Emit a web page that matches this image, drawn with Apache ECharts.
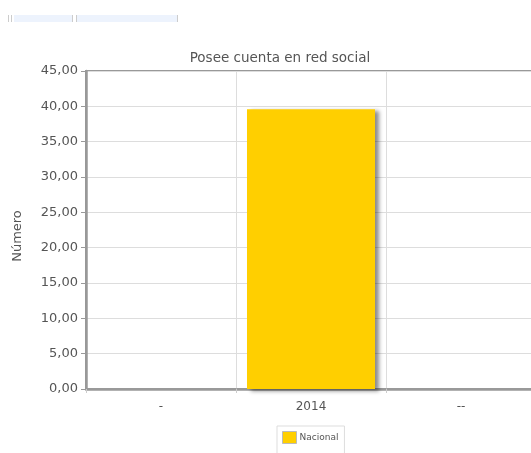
<!DOCTYPE html>
<html>
<head>
<meta charset="utf-8">
<script src="https://cdn.jsdelivr.net/npm/echarts@6/dist/echarts.min.js"></script>
<style>
  html, body { margin: 0; padding: 0; background: #fff; overflow: hidden; width: 531px; height: 453px; }
  #chart { width: 536px; height: 453px; }
</style>
</head>
<body>
<div id="chart"></div>
<script>
const categories = ['-', '2014', '--'];
const nacional = [null, 39.6, null];
const yMin = 0;
const yMax = 45;
const yStep = 5;

const chart = echarts.init(document.getElementById('chart'));
const fmt = (v) => v.toFixed(2).replace('.', ',');

const option = {
  animation: false,
  textStyle: { fontFamily: 'DejaVu Sans, sans-serif' },
  title: {
    text: 'Posee cuenta en red social',
    left: 275,
    top: 46,
    textAlign: 'center',
    textStyle: { fontSize: 13.5, fontWeight: 'normal', color: '#555' },
  },
  graphic: [
    { type: 'rect', shape: { x: 8, y: 15, width: 1, height: 7 }, style: { fill: '#ccc' } },
    { type: 'rect', shape: { x: 11, y: 15, width: 1, height: 7 }, style: { fill: '#ccc' } },
    { type: 'rect', shape: { x: 14, y: 15, width: 58, height: 7 }, style: { fill: '#edf3fd' } },
    { type: 'rect', shape: { x: 72, y: 15, width: 1, height: 7 }, style: { fill: '#ccc' } },
    { type: 'rect', shape: { x: 76, y: 15, width: 1, height: 7 }, style: { fill: '#ccc' } },
    { type: 'rect', shape: { x: 77, y: 15, width: 100, height: 7 }, style: { fill: '#edf3fd' } },
    { type: 'rect', shape: { x: 177, y: 15, width: 1, height: 7 }, style: { fill: '#ccc' } },
  ],
  legend: {
    data: ['Nacional'],
    left: 277,
    top: 426,
    orient: 'vertical',
    padding: [5, 6, 14, 5],
    borderColor: '#ddd',
    borderWidth: 1,
    icon: 'rect',
    itemWidth: 14,
    itemHeight: 12,
    itemGap: 4,
    itemStyle: { borderColor: '#bbb', borderWidth: 1 },
    textStyle: { fontSize: 9, color: '#555', padding: [-4, 0, 0, -2] },
  },
  grid: {
    left: 86,
    right: 0,
    top: 71,
    bottom: 64,
    show: true,
    borderColor: '#999',
    borderWidth: 2,
  },
  xAxis: {
    type: 'category',
    data: categories,
    axisLine: { lineStyle: { color: '#999', width: 2.5 } },
    axisTick: { show: true, length: 4, lineStyle: { color: '#ccc' } },
    axisLabel: { color: '#555', fontSize: 12, margin: 12 },
    splitLine: { show: true, lineStyle: { color: '#ddd', width: 1 } },
  },
  yAxis: {
    type: 'value',
    min: yMin,
    max: yMax,
    interval: yStep,
    name: 'Número',
    nameLocation: 'middle',
    nameGap: 62,
    nameTextStyle: { fontSize: 13, color: '#555', padding: [0, 0, 0, -12] },
    axisLine: { show: true, lineStyle: { color: '#999', width: 2.5 } },
    axisTick: { show: true, length: 5, lineStyle: { color: '#999' } },
    axisLabel: { color: '#555', fontSize: 13, margin: 8, formatter: fmt },
    splitLine: { show: true, lineStyle: { color: '#ddd', width: 1 } },
  },
  series: [
    {
      name: 'Nacional',
      type: 'bar',
      data: nacional,
      barWidth: 128,
      itemStyle: {
        color: '#ffcf00',
        shadowColor: 'rgba(0,0,0,0.45)',
        shadowBlur: 4,
        shadowOffsetX: 4,
        shadowOffsetY: 2,
      },
    },
  ],
};

chart.setOption(option);
</script>
</body>
</html>
